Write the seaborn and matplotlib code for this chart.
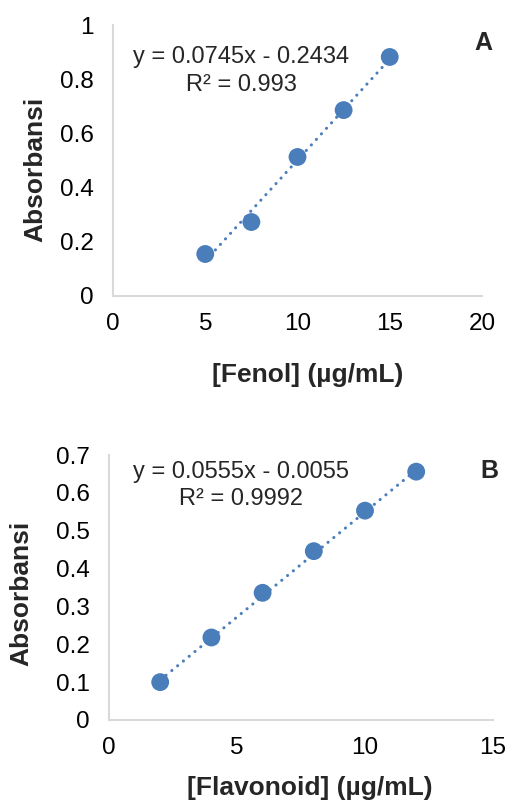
import numpy as np
import pandas as pd
import matplotlib
matplotlib.use("Agg")
import matplotlib.pyplot as plt
import seaborn as sns

sns.set_style("white")
plt.rcParams['font.family'] = ['Liberation Sans', 'DejaVu Sans']

# Panel A data (Fenol)
fenol_x = [5, 7.5, 10, 12.5, 15]
fenol_y = [0.155, 0.273, 0.513, 0.686, 0.882]
fenol_slope, fenol_intercept = 0.0745, -0.2434
fenol_eq = "y = 0.0745x - 0.2434\nR² = 0.993"
fenol_xticks = [0, 5, 10, 15, 20]
fenol_yticks = [0, 0.2, 0.4, 0.6, 0.8, 1]
fenol_yticklabels = ["0", "0.2", "0.4", "0.6", "0.8", "1"]

# Panel B data (Flavonoid)
flav_x = [2, 4, 6, 8, 10, 12]
flav_y = [0.100, 0.218, 0.336, 0.446, 0.553, 0.656]
flav_slope, flav_intercept = 0.0555, -0.0055
flav_eq = "y = 0.0555x - 0.0055\nR² = 0.9992"
flav_xticks = [0, 5, 10, 15]
flav_yticks = [0, 0.1, 0.2, 0.3, 0.4, 0.5, 0.6, 0.7]
flav_yticklabels = ["0", "0.1", "0.2", "0.3", "0.4", "0.5", "0.6", "0.7"]

color = "#4a7ebb"
W, H = 511, 801
fig = plt.figure(figsize=(W / 100, H / 100), dpi=100)

def px_axes(l, r, t, b):
    return fig.add_axes([l / W, 1 - b / H, (r - l) / W, (b - t) / H])

axA = px_axes(113, 482, 25, 296)
axB = px_axes(109, 493, 455, 720)

def draw(ax, xs, ys, slope, intercept, eq, xticks, yticks, yticklabels,
         xlim, ylim, xlabel, letter, eqpos, letterpos, xlabpos, ylabpos):
    df = pd.DataFrame({"x": xs, "y": ys})
    xf = np.array([min(xs), max(xs)])
    tl = pd.DataFrame({"x": xf, "y": slope * xf + intercept})
    sns.lineplot(data=tl, x="x", y="y", ax=ax, color=color, lw=2.2,
                 dashes=False, solid_capstyle="round")
    ax.lines[-1].set_linestyle((0, (0.05, 2.4)))
    ax.lines[-1].set_dash_capstyle("round")
    sns.scatterplot(data=df, x="x", y="y", ax=ax, color=color, s=165,
                    edgecolor="none", zorder=3)
    ax.set_xlim(*xlim)
    ax.set_ylim(*ylim)
    ax.set_xticks(xticks)
    ax.set_xticklabels([str(t) for t in xticks])
    ax.set_yticks(yticks)
    ax.set_yticklabels(yticklabels)
    ax.tick_params(axis="both", length=0, labelsize=17.5, colors="black")
    ax.tick_params(axis="y", pad=14)
    ax.tick_params(axis="x", pad=12)
    for s in ["top", "right"]:
        ax.spines[s].set_visible(False)
    for s in ["left", "bottom"]:
        ax.spines[s].set_color("#d9d9d9")
        ax.spines[s].set_linewidth(1.5)
    ax.set_xlabel(xlabel, fontsize=19, fontweight="bold", va="center")
    ax.set_ylabel("Absorbansi", fontsize=19, fontweight="bold", va="center")
    ax.xaxis.set_label_coords(*xlabpos)
    ax.yaxis.set_label_coords(*ylabpos)
    ax.text(eqpos[0], eqpos[1], eq, transform=ax.transAxes, ha="center",
            va="center", fontsize=17, multialignment="center", linespacing=1.32)
    ax.text(letterpos[0], letterpos[1], letter, transform=ax.transAxes,
            ha="center", va="center", fontsize=18, fontweight="bold")
    ax.grid(False)

draw(axA, fenol_x, fenol_y, fenol_slope, fenol_intercept, fenol_eq,
     fenol_xticks, fenol_yticks, fenol_yticklabels, (0, 20), (0, 1),
     "[Fenol] (µg/mL)", "A", (0.347, 0.83), (1.003, 0.934),
     (0.528, -0.29), (-0.211, 0.469))
draw(axB, flav_x, flav_y, flav_slope, flav_intercept, flav_eq,
     flav_xticks, flav_yticks, flav_yticklabels, (0, 15), (0, 0.7),
     "[Flavonoid] (µg/mL)", "B", (0.344, 0.885), (0.99, 0.94),
     (0.523, -0.257), (-0.227, 0.479))

fig.savefig("out.png", dpi=100)
